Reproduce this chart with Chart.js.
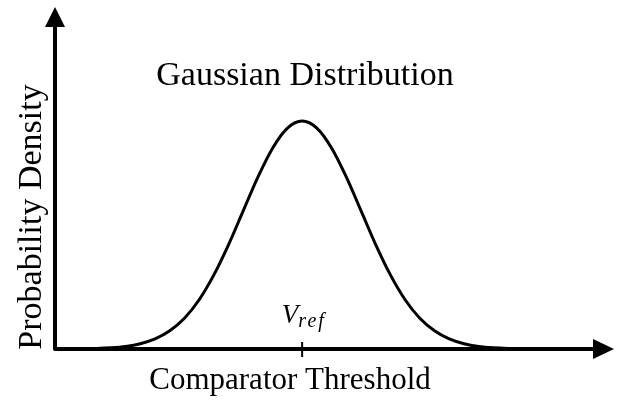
<!DOCTYPE html>
<html>
<head>
<meta charset="utf-8">
<script src="https://cdn.jsdelivr.net/npm/chart.js@4/dist/chart.umd.min.js"></script>
<style>
  html, body { margin: 0; padding: 0; background: #fff; }
  canvas { display: block; }
</style>
</head>
<body>
<canvas id="chart" width="621" height="408"></canvas>
<script>
// threshold offset (in sigma units) and relative density
const thresholds = [-4.2, -4, -3.75, -3.5, -3.25, -3, -2.75, -2.5, -2.25, -2, -1.75, -1.5, -1.25, -1, -0.75, -0.5, -0.25, 0,
                    0.25, 0.5, 0.75, 1, 1.25, 1.5, 1.75, 2, 2.25, 2.5, 2.75, 3, 3.25, 3.5, 3.75, 4, 4.3];
const density    = [0, 0.0004, 0.001, 0.002, 0.005, 0.011, 0.023, 0.044, 0.08, 0.135, 0.216, 0.325, 0.458, 0.607, 0.755, 0.882, 0.969, 1,
                    0.969, 0.882, 0.755, 0.607, 0.458, 0.325, 0.216, 0.135, 0.08, 0.044, 0.023, 0.011, 0.005, 0.002, 0.001, 0.0004, 0];

const tickValues = [0];
const tickLabels = [{ main: "V", sub: "ref" }];

const titleText = "Gaussian Distribution";
const xTitle = "Comparator Threshold";
const yTitle = "Probability Density";

const serif = '"Liberation Serif", "Times New Roman", serif';

function drawArrow(ctx, tipX, tipY, dir) {
  ctx.beginPath();
  if (dir === "up") {
    ctx.moveTo(tipX, tipY);
    ctx.lineTo(tipX - 10, tipY + 20);
    ctx.lineTo(tipX + 10, tipY + 20);
  } else {
    ctx.moveTo(tipX, tipY);
    ctx.lineTo(tipX - 21, tipY - 10);
    ctx.lineTo(tipX - 21, tipY + 10);
  }
  ctx.closePath();
  ctx.fill();
}

const axesPlugin = {
  id: "axesPlugin",
  afterDraw(chart) {
    const ctx = chart.ctx;
    const x = chart.scales.x;
    const y = chart.scales.y;
    const x0 = x.left, yb = y.bottom;
    ctx.save();
    ctx.strokeStyle = "#000";
    ctx.fillStyle = "#000";
    ctx.lineWidth = 4;
    ctx.lineJoin = "round";
    ctx.beginPath();
    ctx.moveTo(x0, y.top + 18);
    ctx.lineTo(x0, yb);
    ctx.lineTo(x.right - 19, yb);
    ctx.stroke();
    drawArrow(ctx, x0, y.top, "up");
    drawArrow(ctx, x.right, yb, "right");

    // ticks + labels
    tickValues.forEach((v, i) => {
      const px = x.getPixelForValue(v);
      ctx.lineWidth = 2;
      ctx.beginPath();
      ctx.moveTo(px, yb - 7);
      ctx.lineTo(px, yb + 8);
      ctx.stroke();
      const lab = tickLabels[i];
      ctx.font = 'italic 27px ' + serif;
      const wMain = ctx.measureText(lab.main).width;
      ctx.font = 'italic 20px ' + serif;
      const wSub = ctx.measureText(lab.sub).width + 3;
      const start = px - (wMain + wSub) / 2;
      ctx.textBaseline = "alphabetic";
      ctx.textAlign = "left";
      ctx.font = 'italic 27px ' + serif;
      ctx.fillText(lab.main, start, yb - 26);
      ctx.font = 'italic 20px ' + serif;
      ctx.fillText(lab.sub.split("").join(String.fromCharCode(8202)), start + wMain, yb - 22);
    });

    ctx.textAlign = "center";
    ctx.textBaseline = "alphabetic";
    ctx.font = '34px ' + serif;
    ctx.fillText(titleText, 305, 85);
    ctx.font = '31px ' + serif;
    ctx.fillText(xTitle, 290, 389);
    ctx.translate(41, 217);
    ctx.rotate(-Math.PI / 2);
    ctx.font = '34px ' + serif;
    ctx.fillText(yTitle, 0, 0);
    ctx.restore();
  }
};

new Chart(document.getElementById("chart"), {
  type: "line",
  data: {
    datasets: [{
      data: thresholds.map((t, i) => ({ x: t, y: density[i] })),
      borderColor: "#000",
      borderWidth: 3,
      pointRadius: 0,
      fill: false,
      cubicInterpolationMode: "monotone"
    }]
  },
  options: {
    responsive: false,
    animation: false,
    layout: { padding: { left: 55, right: 7, top: 7, bottom: 59 } },
    plugins: { legend: { display: false }, tooltip: { enabled: false } },
    scales: {
      x: { type: "linear", min: -4.2, max: 5.3, display: false },
      y: { min: 0, max: 1.5, display: false }
    }
  },
  plugins: [axesPlugin]
});
</script>
</body>
</html>
